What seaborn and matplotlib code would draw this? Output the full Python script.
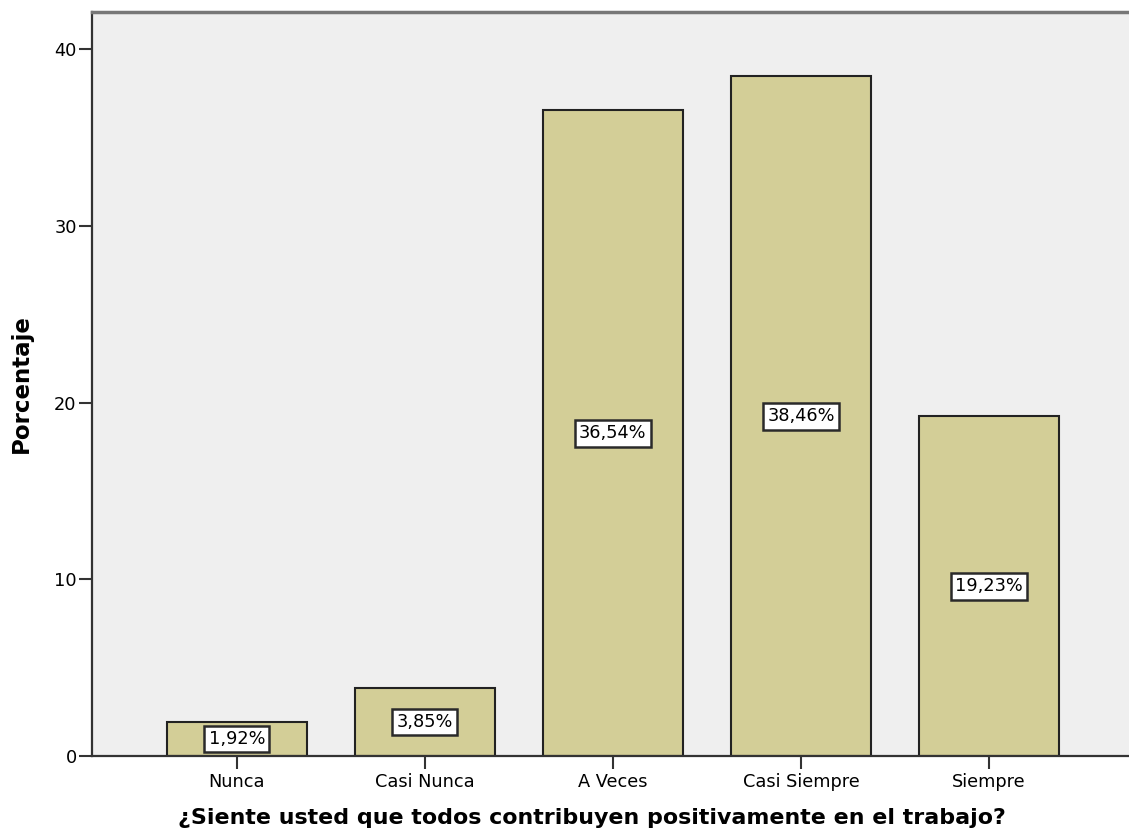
import matplotlib
matplotlib.use("Agg")
import matplotlib.pyplot as plt
import seaborn as sns
import pandas as pd

# Response categories and their percentage of respondents
categorias = ["Nunca", "Casi Nunca", "A Veces", "Casi Siempre", "Siempre"]
porcentajes = [1.92, 3.85, 36.54, 38.46, 19.23]
etiquetas = ["1,92%", "3,85%", "36,54%", "38,46%", "19,23%"]
yticks = [0, 10, 20, 30, 40]

df = pd.DataFrame({"categoria": categorias, "porcentaje": porcentajes})

sns.set_theme(style="white")
plt.rcParams["font.family"] = ["DejaVu Sans"]
plt.rcParams["text.color"] = "black"

fig = plt.figure(figsize=(11.29, 8.38), dpi=100)
ax = fig.add_axes([92 / 1129, 1 - 756 / 838, 1 - 92 / 1129, (756 - 12) / 838])
ax.set_facecolor("#efefef")

sns.barplot(data=df, x="categoria", y="porcentaje", order=categorias,
            color="#d3ce97", saturation=1, width=0.745,
            edgecolor="#222222", linewidth=1.5, ax=ax)

# Value boxes centred at half the bar height
for i, (v, txt) in enumerate(zip(porcentajes, etiquetas)):
    ax.text(i, v / 2, txt, ha="center", va="center", fontsize=12.8,
            color="black",
            bbox=dict(boxstyle="square,pad=0.25", fc="white",
                      ec="#2a2a2a", lw=1.8))

ax.set_xlim(-0.77, 4.745)
ax.set_ylim(0, 42.1)
ax.set_yticks(yticks)
ax.set_yticklabels([str(t) for t in yticks], fontsize=12.8, color="black")
ax.tick_params(axis="x", labelsize=12.8, colors="black", length=9.5,
               width=1.5, direction="out", bottom=True, pad=3)
ax.tick_params(axis="y", length=9.5, width=1.5, direction="out", left=True,
               colors="black", pad=1.5)
ax.tick_params(axis="both", color="#333333")

for side in ["left", "bottom"]:
    ax.spines[side].set_visible(True)
    ax.spines[side].set_color("#333333")
    ax.spines[side].set_linewidth(1.6)
ax.spines["top"].set_visible(True)
ax.spines["top"].set_color("#777777")
ax.spines["top"].set_linewidth(2.5)
ax.spines["right"].set_visible(False)

ax.set_ylabel("Porcentaje", fontsize=16.5, fontweight="bold", labelpad=15,
              color="black")
ax.set_xlabel("¿Siente usted que todos contribuyen positivamente en el trabajo?",
              fontsize=15.9, fontweight="bold", color="black", va="top")
ax.xaxis.set_label_coords(0.482, -0.070)

fig.savefig("out.png", dpi=100)
